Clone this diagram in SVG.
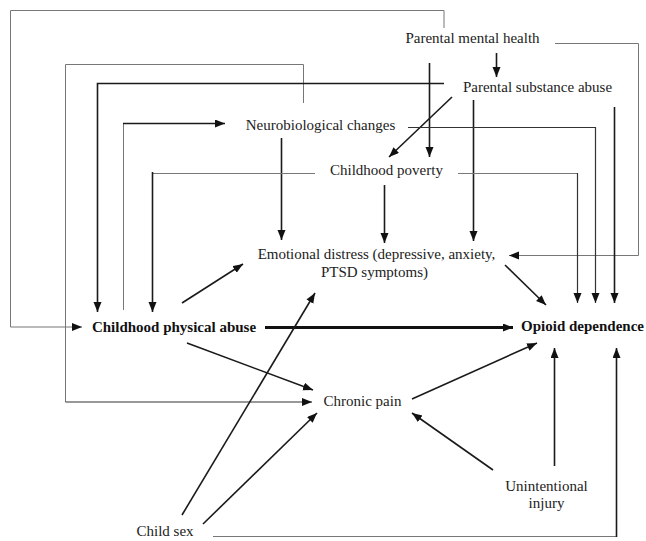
<svg xmlns="http://www.w3.org/2000/svg" width="646" height="541" viewBox="0 0 646 541">
<defs>
<marker id="ah" markerWidth="11" markerHeight="9" refX="10" refY="4" orient="auto" markerUnits="userSpaceOnUse"><path d="M0,0 L10,4 L0,8 z" fill="#111"/></marker>
<style>
text{font-family:"Liberation Serif","Times New Roman",serif;font-size:15px;fill:#222;text-anchor:middle}
.b{font-weight:bold;fill:#111}
.c path{fill:none;stroke:#1a1a1a;stroke-width:1.6}
.c path.t{stroke:#777;stroke-width:1}
.c path.m{stroke:#333;stroke-width:1.2}
.c path.k{stroke:#111;stroke-width:3}
.c path.a{marker-end:url(#ah)}
</style>
</defs>
<rect width="646" height="541" fill="#fff"/>
<g class="c" id="connectors">
<path class="t a" d="M444,28 V10.5 H10.5 V327 H82"/>
<path class="t" d="M303.5,103 V64.5 H65.5 V402"/>
<path class="m a" d="M65.5,402 H312"/>
<path class="a" d="M444,83.5 H97.5 V312"/>
<path class="t" d="M123.5,310 V123"/>
<path class="a" d="M123,123.5 H225"/>
<path class="a" d="M281.5,138 V240"/>
<path class="t" d="M315,173.5 H152.5 V250"/>
<path class="a" d="M152.5,172 V312"/>
<path class="a" d="M384.5,185 V243"/>
<path class="a" d="M473.5,100 V241"/>
<path class="a" d="M429.5,63 V157"/>
<path class="a" d="M496.5,53 V77"/>
<path class="a" d="M452,97 L389,157"/>
<path class="t a" d="M555,43.5 H638.5 V255.5 H509"/>
<path class="m a" d="M408,127.5 H595.5 V303"/>
<path class="t" d="M458,173.5 H577.5 V200"/>
<path class="m a" d="M577.5,173 V303"/>
<path class="a" d="M614.5,107 V303"/>
<path class="a" d="M505,265 L546,305"/>
<path class="k a" d="M265,327.5 H513"/>
<path class="a" d="M182,303 L243,264"/>
<path class="a" d="M187,343 L313,390"/>
<path class="a" d="M182,515 L315,293"/>
<path class="a" d="M203,524 L317,413"/>
<path class="t" d="M213,536.5 H616.5"/>
<path class="a" d="M616.5,537 V348"/>
<path class="a" d="M412,399 L537,343"/>
<path class="a" d="M493,470 L412,413"/>
<path class="a" d="M554.5,466 V348"/>
</g>
<g id="parental-mental-health"><text x="472.5" y="43">Parental mental health</text></g>
<g id="parental-substance-abuse"><text x="537.5" y="92">Parental substance abuse</text></g>
<g id="neurobiological-changes"><text x="320.5" y="130">Neurobiological changes</text></g>
<g id="childhood-poverty"><text x="386.5" y="175">Childhood poverty</text></g>
<g id="emotional-distress"><text x="376.5" y="259">Emotional distress (depressive, anxiety,</text><text x="374.5" y="277">PTSD symptoms)</text></g>
<g id="childhood-physical-abuse"><text class="b" x="174" y="332">Childhood physical abuse</text></g>
<g id="opioid-dependence"><text class="b" x="582.5" y="331">Opioid dependence</text></g>
<g id="chronic-pain"><text x="362.5" y="406">Chronic pain</text></g>
<g id="unintentional-injury"><text x="546.5" y="491">Unintentional</text><text x="546.5" y="508">injury</text></g>
<g id="child-sex"><text x="165" y="536">Child sex</text></g>
</svg>
